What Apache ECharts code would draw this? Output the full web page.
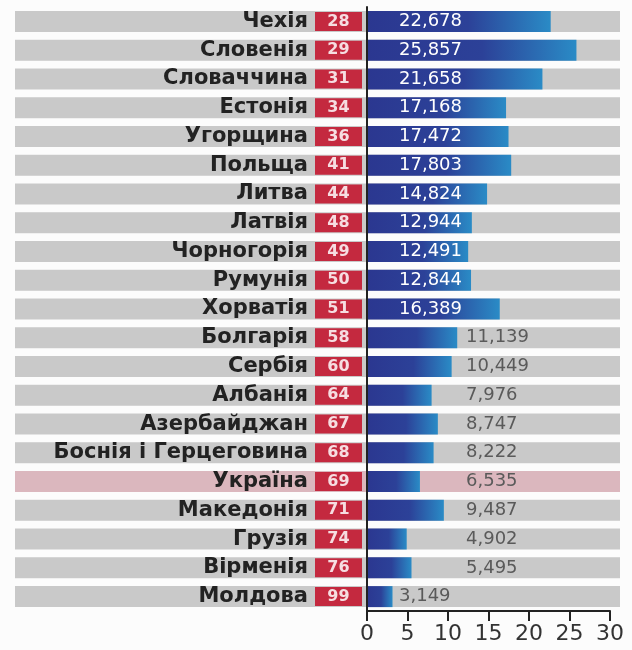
<!DOCTYPE html>
<html>
<head>
<meta charset="utf-8">
<script src="https://cdn.jsdelivr.net/npm/echarts@6/dist/echarts.min.js"></script>
<style>
html,body{margin:0;padding:0;background:#fcfcfc;}
#chart{width:632px;height:650px;}
</style>
</head>
<body>
<div id="chart"></div>
<script>
const countries = ['Чехія','Словенія','Словаччина','Естонія','Угорщина','Польща','Литва','Латвія','Чорногорія','Румунія','Хорватія','Болгарія','Сербія','Албанія','Азербайджан','Боснія і Герцеговина','Україна','Македонія','Грузія','Вірменія','Молдова'];
const ranks = [28,29,31,34,36,41,44,48,49,50,51,58,60,64,67,68,69,71,74,76,99];
const values = [22.678,25.857,21.658,17.168,17.472,17.803,14.824,12.944,12.491,12.844,16.389,11.139,10.449,7.976,8.747,8.222,6.535,9.487,4.902,5.495,3.149];
const highlighted = ['Україна'];
const xTicks = [0,5,10,15,20,25,30];

const chart = echarts.init(document.getElementById('chart'), null, {renderer:'canvas'});

const gridTop = 7, gridH = 604;

const bandData = countries.map(c => ({
  value: 1,
  itemStyle: { color: highlighted.includes(c) ? '#dbb7be' : '#c9c9c9' }
}));

const blueGrad = new echarts.graphic.LinearGradient(0,0,1,0,[
  {offset:0,color:'#2b3790'},
  {offset:0.55,color:'#2c4198'},
  {offset:1,color:'#2a8bc6'}
]);

const barData = values.map(v => {
  const inside = v >= 12;
  const offset = inside ? 32 : (v > 4 ? 99 : 32);
  return {
    value: v,
    label: {
      show: true,
      position: [offset, '50%'],
      align: 'left',
      verticalAlign: 'middle',
      color: inside ? '#ffffff' : '#5a5a5a',
      fontFamily: 'DejaVu Sans',
      fontSize: 18,
      formatter: () => v.toFixed(3).replace('.', ',')
    }
  };
});

const option = {
  backgroundColor: '#fcfcfc',
  animation: false,
  grid: [
    {left: 15, right: 12, top: gridTop, height: gridH},
    {left: 367, right: 22, top: gridTop, height: gridH}
  ],
  xAxis: [
    {gridIndex:0, type:'value', min:0, max:1, show:false},
    {gridIndex:1, type:'value', min:0, max:30, interval:5, z:5,
      splitLine:{show:false},
      axisLine:{show:true, lineStyle:{color:'#222', width:2}},
      axisTick:{show:true, length:10, lineStyle:{color:'#222', width:2}},
      axisLabel:{color:'#333', fontFamily:'DejaVu Sans', fontSize:22, margin:12,
        formatter: v => xTicks.includes(v) ? String(v) : ''}
    }
  ],
  yAxis: [
    {gridIndex:0, type:'category', data:countries, inverse:true, show:false},
    {gridIndex:1, type:'category', data:countries, inverse:true, z:5,
      axisLine:{show:true, lineStyle:{color:'#222', width:2}},
      axisTick:{show:false},
      axisLabel:{
        margin:5,
        formatter: (name, i) => '{n|' + name + '}{g|}{r|' + ranks[i] + '}',
        rich:{
          n:{fontFamily:'DejaVu Sans', fontWeight:'bold', fontSize:21, color:'#222'},
          g:{width:7},
          r:{width:47, height:19, align:'center', backgroundColor:'#c4293f', color:'#f6dde1',
             fontFamily:'DejaVu Sans', fontWeight:'bold', fontSize:16}
        }
      }
    }
  ],
  series: [
    {type:'bar', xAxisIndex:0, yAxisIndex:0, data:bandData, barWidth:21, silent:true, z:1},
    {type:'bar', xAxisIndex:1, yAxisIndex:1, data:barData, barWidth:21, z:3,
      itemStyle:{color:blueGrad}}
  ]
};
chart.setOption(option);
</script>
</body>
</html>
